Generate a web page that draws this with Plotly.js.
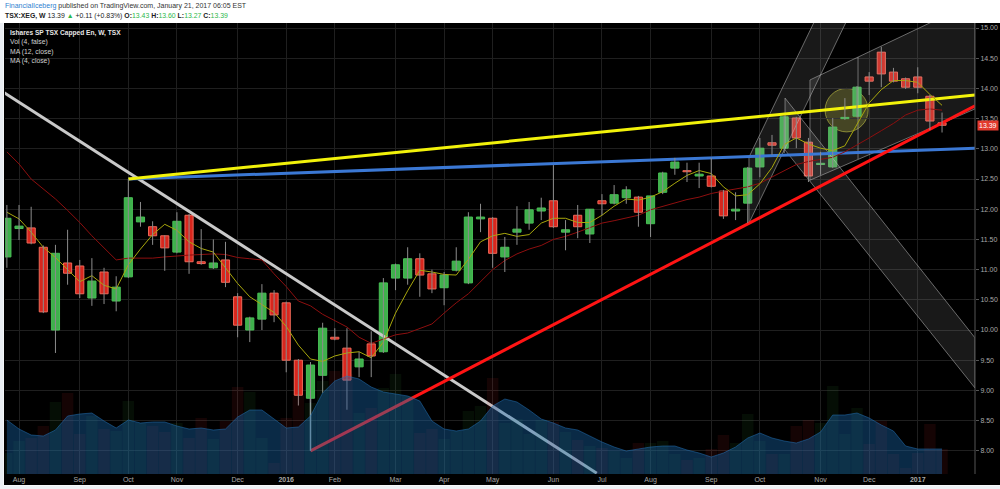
<!DOCTYPE html>
<html>
<head>
<meta charset="utf-8">
<script src="https://cdn.plot.ly/plotly-3.0.1.min.js"></script>
<style>
html,body{margin:0;padding:0;background:#ffffff;}
#chart{width:1000px;height:489px;}
</style>
</head>
<body>
<div id="chart"></div>
<script>
// ---------- DATA (weekly bars, TSX:XEG) ----------
const dates = ['2015-07-27','2015-08-03','2015-08-10','2015-08-17','2015-08-24','2015-08-31','2015-09-07','2015-09-14','2015-09-21','2015-09-28',
'2015-10-05','2015-10-12','2015-10-19','2015-10-26','2015-11-02','2015-11-09','2015-11-16','2015-11-23','2015-11-30','2015-12-07',
'2015-12-14','2015-12-21','2015-12-28','2016-01-04','2016-01-11','2016-01-18','2016-01-25','2016-02-01','2016-02-08','2016-02-15',
'2016-02-22','2016-02-29','2016-03-07','2016-03-14','2016-03-21','2016-03-28','2016-04-04','2016-04-11','2016-04-18','2016-04-25',
'2016-05-02','2016-05-09','2016-05-16','2016-05-23','2016-05-30','2016-06-06','2016-06-13','2016-06-20','2016-06-27','2016-07-04',
'2016-07-11','2016-07-18','2016-07-25','2016-08-01','2016-08-08','2016-08-15','2016-08-22','2016-08-29','2016-09-05','2016-09-12',
'2016-09-19','2016-09-26','2016-10-03','2016-10-10','2016-10-17','2016-10-24','2016-10-31','2016-11-07','2016-11-14','2016-11-21',
'2016-11-28','2016-12-05','2016-12-12','2016-12-19','2016-12-26','2017-01-02','2017-01-09','2017-01-16'];

const open  = [11.21,11.68,11.69,11.37,10.00,11.11,11.06,10.53,10.96,10.48, 10.88,11.79,11.71,11.56,11.29,11.90,11.13,11.03,11.16,10.55,
               10.00,10.18,10.61,10.45,9.50,8.87,9.25,9.88,9.70,9.39, 9.77,9.64,10.86,10.86,11.18,10.93,10.70,10.99,10.78,11.84,
               11.85,11.21,11.62,11.77,11.97,12.14,11.62,11.90,11.59,12.14, 12.10,12.19,12.20,11.76,12.28,12.68,12.63,12.55,12.55,12.30,
               11.97,12.10,12.70,13.10,13.01,13.51,13.11,12.74,12.70,13.50, 13.54,14.19,14.60,14.27,14.16,14.19,13.87,13.43];
const high  = [12.07,12.07,12.04,11.40,11.41,11.66,11.16,11.19,11.03,10.89, 12.50,12.12,11.80,11.57,11.95,11.92,11.67,11.50,11.46,10.61,
               10.22,10.76,10.66,10.47,9.52,9.47,10.12,10.03,10.03,9.64, 9.98,10.86,11.10,11.37,11.27,11.00,10.96,11.37,11.95,12.09,
               11.87,11.54,12.05,12.12,12.19,12.73,11.82,12.07,12.00,12.25, 12.40,12.38,12.22,12.22,12.62,12.85,12.77,12.77,12.85,12.32,
               12.28,12.70,13.18,13.23,13.55,13.53,13.18,12.95,13.51,13.84, 14.04,14.27,14.69,14.34,14.18,14.35,13.89,13.60];
const low   = [11.03,11.49,11.42,10.28,9.62,10.75,10.53,10.40,10.43,10.31, 10.86,11.71,11.41,10.98,11.27,10.93,11.08,11.01,10.71,9.88,
               9.80,10.00,10.13,9.30,8.75,8.80,8.96,9.83,8.68,9.22, 9.22,9.62,10.66,10.75,10.55,10.61,10.41,10.97,10.76,11.62,
               11.03,10.96,11.41,11.66,11.82,11.69,11.32,11.52,11.44,11.90, 12.08,12.09,11.71,11.54,12.25,12.57,12.45,12.35,12.36,11.84,
               11.82,11.77,12.53,12.90,12.93,13.01,12.45,12.57,12.68,13.48, 13.52,13.89,14.02,14.10,13.99,13.92,13.31,13.27];
const close = [11.85,11.72,11.44,10.30,11.27,10.94,10.60,10.81,10.60,10.71, 12.19,11.87,11.56,11.36,11.80,11.13,11.10,11.11,10.79,10.08,
               10.20,10.61,10.25,9.50,8.92,9.42,10.03,9.85,9.17,9.52, 9.57,10.78,11.08,11.18,10.91,10.68,10.91,11.14,11.87,11.87,
               11.27,11.37,11.67,11.99,12.02,11.71,11.66,11.71,12.00,12.09, 12.24,12.32,11.95,12.22,12.60,12.78,12.62,12.58,12.38,11.89,
               12.00,12.68,13.01,13.06,13.53,13.18,12.55,12.76,13.36,13.52, 14.02,14.12,14.24,14.12,14.02,14.02,13.46,13.39];
// MA(4, close)
const ma4   = [11.95,11.84,11.62,11.37,11.20,11.00,10.80,10.90,10.74,10.68, 11.08,11.34,11.58,11.75,11.65,11.46,11.35,11.29,11.03,10.77,
               10.55,10.42,10.29,10.06,9.75,9.52,9.48,9.57,9.62,9.64, 9.54,9.80,10.28,10.65,10.99,10.96,10.92,10.91,11.17,11.46,
               11.56,11.60,11.55,11.58,11.77,11.85,11.85,11.78,11.78,11.90, 12.05,12.17,12.15,12.20,12.29,12.43,12.56,12.64,12.59,12.37,
               12.22,12.24,12.42,12.69,13.07,13.18,13.08,13.01,12.97,13.05, 13.40,13.76,13.98,14.13,14.13,14.10,13.90,13.72];
// MA(12, close)
const ma12  = [12.95,12.75,12.50,12.33,12.17,11.98,11.78,11.56,11.36,11.16, 11.19,11.19,11.19,11.21,11.23,11.24,11.25,11.26,11.25,11.20,
               11.18,11.16,10.93,10.72,10.48,10.40,10.26,10.15,10.05,9.88, 9.78,9.85,9.92,9.95,10.02,10.10,10.28,10.45,10.60,10.80,
               11.00,11.15,11.26,11.34,11.40,11.50,11.55,11.62,11.70,11.77, 11.81,11.86,11.90,11.99,12.05,12.11,12.16,12.20,12.26,12.30,
               12.34,12.37,12.43,12.53,12.64,12.74,12.79,12.82,12.86,12.95, 13.06,13.18,13.30,13.42,13.56,13.64,13.66,13.64];
// Volume (millions, estimated) and Vol MA(4) as read
const volume = [2.1,3.3,3.6,4.8,7.2,8.1,4.0,5.8,4.5,4.3, 7.3,5.1,4.8,4.2,5.1,3.6,5.6,3.5,5.3,8.7,
                8.2,3.6,1.1,5.6,7.8,7.1,9.3,10.3,10.0,6.1, 6.6,8.6,10.0,7.8,4.1,4.5,3.5,4.3,6.3,6.8,
                9.6,5.1,5.5,4.0,5.4,5.2,4.2,3.4,2.8,2.6, 2.3,1.6,3.1,3.1,3.3,2.0,1.4,1.6,2.5,3.9,
                3.1,6.0,3.3,2.0,2.0,4.8,5.4,5.1,8.8,4.0, 6.6,3.0,5.3,2.0,0.6,2.1,5.0,2.5];
const volMA  = [5.4,4.5,3.9,3.8,4.4,5.8,6.0,6.1,5.3,4.6, 5.4,5.1,5.2,5.2,4.8,4.5,4.6,4.4,4.5,5.7,
                6.4,6.4,5.5,4.6,4.7,5.8,8.1,9.3,9.8,9.5, 8.7,8.2,8.0,7.8,7.3,5.3,4.5,4.3,4.5,5.3,
                6.8,7.5,7.2,6.4,5.5,5.1,4.6,4.4,3.8,3.2, 2.7,2.3,2.5,2.7,2.8,2.8,2.4,2.1,1.7,2.1,
                2.7,3.6,4.1,3.6,3.3,3.1,3.5,4.2,5.9,5.9, 6.1,5.6,4.9,4.3,2.8,2.5,2.5,2.5];

// month tick labels (first weekly bar of each month)
const tickDates = ['2015-08-03','2015-09-07','2015-10-05','2015-11-02','2015-12-07','2016-01-04','2016-02-01','2016-03-07','2016-04-04',
                   '2016-05-02','2016-06-06','2016-07-04','2016-08-01','2016-09-05','2016-10-03','2016-11-07','2016-12-05','2017-01-02'];
const tickText  = ['Aug','Sep','Oct','Nov','Dec','<b>2016</b>','Feb','Mar','Apr','May','Jun','Jul','Aug','Sep','Oct','Nov','Dec','<b>2017</b>'];
const priceTicks = [8,8.5,9,9.5,10,10.5,11,11.5,12,12.5,13,13.5,14,14.5,15];

// drawings (date, price anchor points)
const grayLine   = {x:['2015-07-20','2016-07-01'], y:[14.03,7.63]};
const yellowLine = {x:['2015-10-05','2017-02-04'], y:[12.50,13.89]};
const blueLine   = {x:['2015-10-05','2017-02-04'], y:[12.50,13.01]};
const redLine    = {x:['2016-01-18','2017-02-04'], y:[8.00,13.71]};
const vertMark   = {x:['2016-01-18','2016-01-18'], y:[8.00,8.87]};
const upBand     = {x:['2016-09-26 17:00','2016-11-03 19:00','2016-11-22 05:00','2016-09-26 17:00','2016-09-26 17:00'],
                    y:[12.86,15.13,15.13,11.77,12.86]};
const downBand   = {x:['2016-10-17 12:00','2017-02-04','2017-02-04','2016-10-17 12:00','2016-10-17 12:00'],
                    y:[13.84,9.87,9.04,12.98,13.84]};
const wideBand   = {x:['2016-10-31 21:00','2017-02-04','2017-02-04','2016-10-31 21:00','2016-10-31 21:00'],
                    y:[14.14,15.44,13.66,12.48,14.14]};
const wideMid    = {x:['2016-11-28 14:00','2016-11-28 14:00'], y:[14.52,12.83]};
const circleMark = {x0:'2016-11-09 14:00', x1:'2016-12-04 10:00', y0:13.28, y1:14.00};

// ---------- BUILD ----------
const GREEN = '#3fb04c', RED = '#d8261d';
const up = close.map((c,i)=> c >= open[i]);
const bodyBase = close.map((c,i)=> Math.min(c, open[i]));
const bodyH = close.map((c,i)=> Math.max(Math.abs(c-open[i]), 0.018));
const wx = [], wy = [];
dates.forEach((d,i)=>{ wx.push(d,d,null); wy.push(low[i],high[i],null); });
const DAY = 86400000;

const traces = [];
const bandStyle = {mode:'lines', fill:'toself', fillcolor:'rgba(170,170,170,0.15)', line:{color:'rgba(200,200,200,0.5)', width:1}, hoverinfo:'skip', showlegend:false};
traces.push(Object.assign({x:wideBand.x, y:wideBand.y, type:'scatter'}, bandStyle));
traces.push(Object.assign({x:upBand.x, y:upBand.y, type:'scatter'}, bandStyle));
traces.push(Object.assign({x:downBand.x, y:downBand.y, type:'scatter'}, bandStyle));
traces.push({x:wideMid.x, y:wideMid.y, type:'scatter', mode:'lines', line:{color:'rgba(200,200,200,0.5)', width:1}, hoverinfo:'skip'});
traces.push({x:grayLine.x, y:grayLine.y, type:'scatter', mode:'lines', line:{color:'#c9c9c9', width:3}, hoverinfo:'skip'});
traces.push({x:blueLine.x, y:blueLine.y, type:'scatter', mode:'lines', line:{color:'#3b78d4', width:3}, hoverinfo:'skip'});
traces.push({x:yellowLine.x, y:yellowLine.y, type:'scatter', mode:'lines', line:{color:'#f2f20a', width:3}, hoverinfo:'skip'});
traces.push({x:redLine.x, y:redLine.y, type:'scatter', mode:'lines', line:{color:'#ff1414', width:3}, hoverinfo:'skip'});
traces.push({x:vertMark.x, y:vertMark.y, type:'scatter', mode:'lines', line:{color:'#9aa0a8', width:1.5}, hoverinfo:'skip'});
// volume
traces.push({x:dates, y:volume, type:'bar', yaxis:'y2', width:6.6*DAY,
  marker:{color: up.map(u=> u ? 'rgba(60,180,70,0.08)' : 'rgba(230,40,40,0.09)'), line:{width:0}}, hoverinfo:'skip'});
traces.push({x:dates, y:volMA, type:'scatter', yaxis:'y2', mode:'lines', fill:'tozeroy',
  fillcolor:'rgba(26,105,175,0.40)', line:{color:'rgba(35,115,185,0.5)', width:1}, hoverinfo:'skip'});
// MAs
traces.push({x:dates, y:ma12, type:'scatter', mode:'lines', line:{color:'#8e0f0f', width:1}, hoverinfo:'skip'});
traces.push({x:dates, y:ma4, type:'scatter', mode:'lines', line:{color:'#a8a70c', width:1}, hoverinfo:'skip'});
// wicks
traces.push({x:wx, y:wy, type:'scatter', mode:'lines', line:{color:'#8c8c8c', width:1}, hoverinfo:'skip', connectgaps:false});
// bodies
traces.push({x:dates, y:bodyH, base:bodyBase, type:'bar', width:4.7*DAY,
  marker:{color: up.map(u=> u ? GREEN : RED), line:{color: up.map(u=> u ? '#48c055' : '#f06a5a'), width:1}}, hoverinfo:'skip'});

// paper coordinate helpers (plot area: x 5..975px, y 23..474px)
const PX = p => (p-5)/970, PY = p => (474-p)/451;
const FF = 'Liberation Sans, Arial, sans-serif';

const annotations = [
  {xref:'paper', yref:'paper', x:PX(3), y:PY(6.5), xanchor:'left', yanchor:'middle', showarrow:false,
   text:'<span style="color:#2f7fd0">FinancialIceberg</span> published on TradingView.com, January 21, 2017 06:05 EST',
   font:{family:FF, size:7, color:'#333'}},
  {xref:'paper', yref:'paper', x:PX(3), y:PY(16), xanchor:'left', yanchor:'middle', showarrow:false,
   text:'<b>TSX:XEG, W</b> 13.39 <span style="color:#2db84a">▲</span> +0.11 (+0.83%) <b>O:</b><span style="color:#2db84a">13.43</span> <b>H:</b><span style="color:#2db84a">13.60</span> <b>L:</b><span style="color:#2db84a">13.27</span> <b>C:</b><span style="color:#2db84a">13.39</span>',
   font:{family:FF, size:6.9, color:'#222'}},
  {xref:'paper', yref:'paper', x:PX(8), y:PY(33), xanchor:'left', yanchor:'middle', showarrow:false,
   text:'<b>Ishares SP TSX Capped En, W, TSX</b>', font:{family:FF, size:6.6, color:'#e6e6e6'}},
  {xref:'paper', yref:'paper', x:PX(8), y:PY(42.5), xanchor:'left', yanchor:'middle', showarrow:false,
   text:'Vol (4, false)', font:{family:FF, size:6.8, color:'#d0d0d0'}},
  {xref:'paper', yref:'paper', x:PX(8), y:PY(52), xanchor:'left', yanchor:'middle', showarrow:false,
   text:'MA (12, close)', font:{family:FF, size:6.8, color:'#d0d0d0'}},
  {xref:'paper', yref:'paper', x:PX(8), y:PY(61.5), xanchor:'left', yanchor:'middle', showarrow:false,
   text:'MA (4, close)', font:{family:FF, size:6.8, color:'#d0d0d0'}},
  {xref:'paper', yref:'y', x:PX(977), y:close[close.length-1], xanchor:'left', yanchor:'middle', showarrow:false,
   text:close[close.length-1].toFixed(2), bgcolor:'#e23a2e', borderpad:1,
   font:{family:FF, size:7, color:'#ffffff'}}
];

const shapes = [
  {type:'rect', xref:'paper', yref:'paper', x0:PX(4), x1:PX(1001), y0:PY(485), y1:PY(23), fillcolor:'#000', line:{width:0}, layer:'below'},
  {type:'rect', xref:'paper', yref:'paper', x0:PX(-1), x1:PX(3.5), y0:PY(490), y1:PY(23), fillcolor:'#e9edf2', line:{width:0}, layer:'below'},
  {type:'rect', xref:'paper', yref:'paper', x0:PX(-1), x1:PX(1001), y0:PY(490), y1:PY(485.5), fillcolor:'#eef1f5', line:{width:0}, layer:'below'},
  {type:'circle', xref:'x', yref:'y', x0:circleMark.x0, x1:circleMark.x1, y0:circleMark.y0, y1:circleMark.y1,
   fillcolor:'rgba(150,150,40,0.35)', line:{color:'rgba(175,175,45,0.7)', width:1}, layer:'below'},
  {type:'line', xref:'paper', yref:'paper', x0:1, x1:1, y0:PY(474), y1:PY(23), line:{color:'#555', width:1}}
];

const layout = {
  width:1000, height:489,
  margin:{l:5, r:25, t:23, b:15, pad:0},
  paper_bgcolor:'#ffffff', plot_bgcolor:'#000000',
  showlegend:false, barmode:'overlay', hovermode:false,
  font:{family:FF, size:7, color:'#a0a0a0'},
  xaxis:{type:'date', range:['2015-07-25 22:00','2017-02-04'], tickmode:'array', tickvals:tickDates, ticktext:tickText,
    showgrid:true, gridcolor:'#1f1f1f', gridwidth:1, zeroline:false, showline:false, ticks:'', ticklen:0,
    tickfont:{size:7, color:'#a8a8a8'}, fixedrange:true, automargin:false},
  yaxis:{range:[7.616,15.083], side:'right', tickmode:'array', tickvals:priceTicks, ticktext:priceTicks.map(v=>v.toFixed(2)),
    showgrid:true, gridcolor:'#1f1f1f', zeroline:false, showline:false, ticks:'outside', ticklen:3, tickcolor:'#555',
    tickfont:{size:7, color:'#a8a8a8'}, fixedrange:true, automargin:false},
  yaxis2:{overlaying:'y', range:[0,45.1], visible:false, fixedrange:true},
  annotations:annotations, shapes:shapes
};

Plotly.newPlot('chart', traces, layout, {staticPlot:true, displayModeBar:false});
</script>
</body>
</html>
